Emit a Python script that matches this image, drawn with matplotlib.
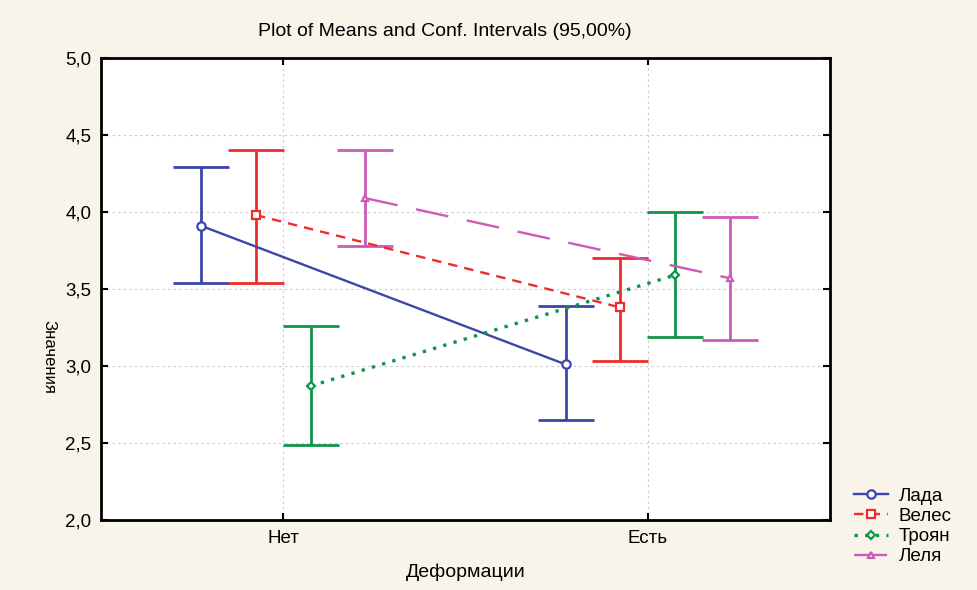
import matplotlib
matplotlib.use("Agg")
import matplotlib.pyplot as plt
import numpy as np
from matplotlib.ticker import FuncFormatter

plt.rcParams['font.family'] = ['Liberation Sans', 'DejaVu Sans']

categories = ["Нет", "Есть"]
groups = ["Лада", "Велес", "Троян", "Леля"]

means = {
    "Лада":  [3.91, 3.01],
    "Велес": [3.98, 3.38],
    "Троян": [2.87, 3.59],
    "Леля":  [4.09, 3.57],
}
ci_low = {
    "Лада":  [3.54, 2.65],
    "Велес": [3.54, 3.03],
    "Троян": [2.49, 3.19],
    "Леля":  [3.78, 3.17],
}
ci_high = {
    "Лада":  [4.29, 3.39],
    "Велес": [4.40, 3.70],
    "Троян": [3.26, 4.00],
    "Леля":  [4.40, 3.97],
}

colors = {"Лада": "#3a47a8", "Велес": "#f02b2b", "Троян": "#0f9448", "Леля": "#cc5ab8"}
markers = {"Лада": "o", "Велес": "s", "Троян": "D", "Леля": "^"}
msizes = {"Лада": 6, "Велес": 6, "Троян": 4.5, "Леля": 5}
linestyles = {
    "Лада": "-",
    "Велес": (0, (4, 3)),
    "Троян": (0, (1, 2.2)),
    "Леля": (0, (14, 8)),
}
offsets = [-0.225, -0.075, 0.075, 0.225]

fig = plt.figure(figsize=(9.78, 5.90), dpi=100, facecolor="#f8f4ea")
ax = fig.add_axes([101 / 978, 1 - 520 / 590, (830 - 101) / 978, (520 - 58) / 590])
ax.set_facecolor("white")

x = np.arange(len(categories))
handles = []
for g, off in zip(groups, offsets):
    xs = x + off
    m = np.array(means[g])
    lo = m - np.array(ci_low[g])
    hi = np.array(ci_high[g]) - m
    ax.errorbar(xs, m, yerr=[lo, hi], fmt="none", ecolor=colors[g],
                elinewidth=2, capsize=20, capthick=2, zorder=3)
    lw = 2.4 if g == "Троян" else 1.7
    h, = ax.plot(xs, m, color=colors[g], linestyle=linestyles[g], linewidth=lw,
                 marker=markers[g], markersize=msizes[g], markerfacecolor="white",
                 markeredgecolor=colors[g], markeredgewidth=1.6, label=g, zorder=4)
    handles.append(h)

ax.set_xlim(-0.5, 1.5)
ax.set_ylim(2.0, 5.0)
ax.set_xticks(x)
ax.set_xticklabels(categories)
ax.set_yticks(np.arange(2.0, 5.01, 0.5))
ax.yaxis.set_major_formatter(FuncFormatter(lambda v, p: f"{v:.1f}".replace(".", ",")))
ax.tick_params(direction="in", top=True, right=True, length=5, width=1.5,
               labelsize=13.5, pad=7)
ax.grid(True, color="#c8c8c8", linestyle=(0, (2, 3)), linewidth=0.8)
ax.set_axisbelow(True)
for s in ax.spines.values():
    s.set_linewidth(2)
    s.set_color("black")

ax.set_xlabel("Деформации", fontsize=14, labelpad=12)
ax.set_ylabel("Значения", fontsize=12, rotation=270, va="center")
ax.yaxis.set_label_coords(-0.072, 0.353)

fig.text(445 / 978, 1 - 31 / 590, "Plot of Means and Conf. Intervals (95,00%)",
         ha="center", va="center", fontsize=14)

leg = fig.legend(handles=handles, loc="upper left",
                 bbox_to_anchor=(850 / 978, 1 - 484 / 590), frameon=False,
                 fontsize=13.5, handlelength=1.85, handletextpad=0.55,
                 labelspacing=0.16, borderaxespad=0, borderpad=0.2)

fig.savefig("out.png", dpi=100, facecolor=fig.get_facecolor())
